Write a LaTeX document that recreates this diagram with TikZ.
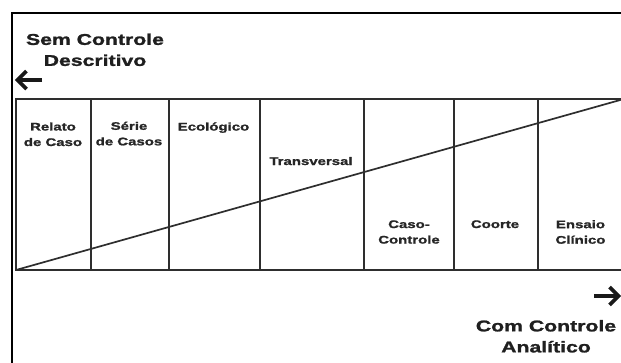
\documentclass[tikz,border=0pt]{standalone}
\usepackage{fontspec}
\newfontfamily\widesans{Liberation Sans}[FakeStretch=1.4]
\newfontfamily\heavysans{Liberation Sans}[FakeStretch=1.36,FakeBold=1.4]
\begin{document}
\begin{tikzpicture}[x=1pt,y=-1pt,
  frame/.style={line width=2pt, black},
  grid/.style={line width=1.6pt, draw=black!82},
  heading/.style={font=\heavysans\bfseries\fontsize{15.6}{21}\selectfont, text=black!88, align=center, inner sep=0pt},
  cell/.style={font=\heavysans\bfseries\fontsize{11}{15.5}\selectfont, text=black!85, align=center, inner sep=0pt},
  bigarrow/.style={line width=3.6pt, black!90, line join=miter, line cap=butt}]
  \useasboundingbox (0,0) rectangle (621,362);

  % outer frame, open towards the lower right
  \draw[frame] (12,366) -- (12,13) -- (626,13);

  % table of study designs
  \coordinate (tl) at (16,99);
  \coordinate (br) at (626,270);
  \draw[grid] (tl) rectangle (br);
  \foreach \x in {91,169,260,364,454,538}
    \draw[grid] (\x,99) -- (\x,270);

  % diagonal: from descriptive to analytic
  \coordinate (low) at (16,270);
  \coordinate (high) at (622,99.5);
  \draw[grid, line width=1.7pt] (low) -- (high);

  % cell labels
  \node[cell] (relato)   at (53,134.3)  {Relato\\de Caso};
  \node[cell] (serie)    at (129,133.6) {Série\\de Casos};
  \node[cell, anchor=base] (ecol)  at (213.5,130.5) {Ecológico};
  \node[cell, anchor=base] (trans) at (311,165) {Transversal};
  \node[cell] (caso)     at (409,232)   {Caso-\\Controle};
  \node[cell, anchor=base] (coorte) at (495,228) {Coorte};
  \node[cell] (ensaio)   at (580.5,232) {Ensaio\\Clínico};

  % headings
  \node[heading] (sem) at (95,49.8) {Sem Controle\\Descritivo};
  \node[heading] (com) at (546,336.3) {Com Controle\\Analítico};

  % direction arrows
  \draw[bigarrow] (42,80) -- (19,80);
  \draw[bigarrow] (26.5,71) -- (17.5,80) -- (26.5,89);
  \draw[bigarrow] (594,296) -- (617,296);
  \draw[bigarrow] (609.5,287) -- (618.5,296) -- (609.5,305);
\end{tikzpicture}
\end{document}
